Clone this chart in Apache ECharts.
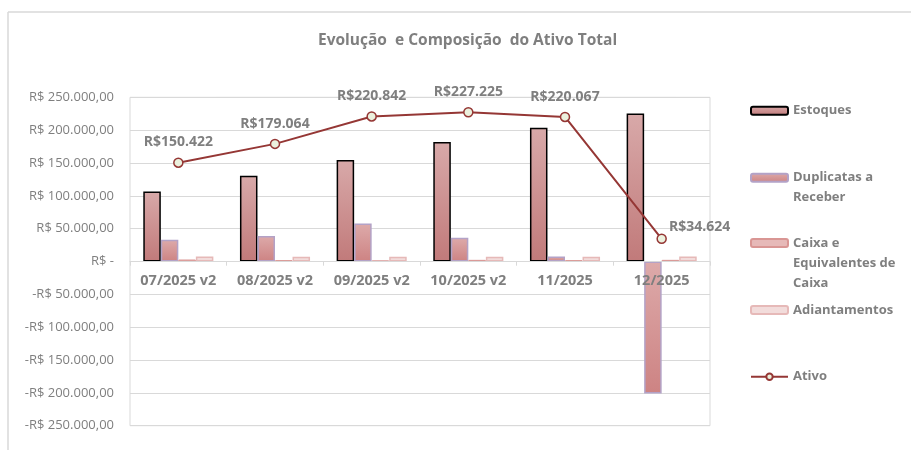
<!DOCTYPE html>
<html>
<head>
<meta charset="utf-8">
<script src="https://cdn.jsdelivr.net/npm/echarts@6/dist/echarts.min.js"></script>
<style>
  html, body { margin: 0; padding: 0; background: #fff; }
  #chart { width: 911px; height: 450px; }
</style>
</head>
<body>
<div id="chart"></div>
<script>
// valores
const categories = ['07/2025 v2', '08/2025 v2', '09/2025 v2', '10/2025 v2', '11/2025', '12/2025']
const estoques = [106400, 130700, 154600, 181900, 203600, 225500]
const duplicatas = [33000, 39000, 57800, 36000, 7600, -201000]
const caixa = [3000, 2000, 1500, 2500, 2000, 2500]
const adiantamentos = [7500, 7400, 7300, 7400, 7200, 7600]
const ativo = [150422, 179064, 220842, 227225, 220067, 34624]

const gray = '#7f7f7f'
const font = 'Open Sans'

function milhar(v) {
  return String(Math.round(Math.abs(v))).replace(/\B(?=(\d{3})+(?!\d))/g, '.')
}

function moeda(v) {
  if (v === 0) return 'R$ -'
  const s = 'R$ ' + milhar(v) + ',00'
  return v < 0 ? '-' + s : s
}

function grad(top, bottom) {
  return new echarts.graphic.LinearGradient(0, 0, 0, 1, [
    {offset: 0, color: top},
    {offset: 1, color: bottom}
  ])
}

function legendBox(name, text, top) {
  return {
    data: [name],
    left: 750,
    top: top,
    padding: 0,
    itemWidth: 37,
    itemHeight: 8,
    itemGap: 5,
    selectedMode: false,
    formatter: () => text,
    textStyle: {
      color: gray,
      fontFamily: font,
      fontWeight: 'bold',
      fontSize: 13,
      lineHeight: 20
    }
  }
}

const chart = echarts.init(document.getElementById('chart'))

const ativoData = ativo.map((v, i) => {
  if (i === ativo.length - 1) {
    return {value: v, label: {position: 'right', distance: 2, offset: [0, -12]}}
  }
  return v
})

const option = {
  animation: false,
  title: {
    text: 'Evolução  e Composição  do Ativo Total',
    left: 313,
    top: 28,
    textStyle: {color: gray, fontFamily: font, fontWeight: 'bold', fontSize: 15.5}
  },
  graphic: [
    {type: 'line', shape: {x1: 8, y1: 12, x2: 911, y2: 12}, style: {stroke: '#d9d9d9', lineWidth: 1.5}},
    {type: 'line', shape: {x1: 8, y1: 12, x2: 8, y2: 450}, style: {stroke: '#d9d9d9', lineWidth: 1.5}}
  ],
  legend: [
    legendBox('Estoques', 'Estoques', 100.7),
    legendBox('Duplicatas a Receber', ' \nDuplicatas a\nReceber', 147.7),
    legendBox('Caixa e Equivalentes de Caixa', ' \n \nCaixa e\nEquivalentes de\nCaixa', 193),
    legendBox('Adiantamentos', 'Adiantamentos', 300),
    legendBox('Ativo', 'Ativo', 366.7)
  ],
  grid: {
    left: 130,
    right: 201,
    top: 97.3,
    bottom: 24.3,
    show: true,
    borderColor: '#d9d9d9',
    borderWidth: 1
  },
  xAxis: {
    type: 'category',
    data: categories,
    z: 5,
    // eixo colocado sobre o zero (metade da altura do grid)
    offset: -164,
    axisLine: {onZero: false, lineStyle: {color: '#d9d9d9', width: 1}},
    axisTick: {show: true, length: 4, lineStyle: {color: '#d9d9d9'}},
    axisLabel: {
      interval: 0,
      hideOverlap: false,
      color: gray,
      fontFamily: font,
      fontWeight: 'bold',
      fontSize: 14.5,
      margin: 12
    }
  },
  yAxis: {
    type: 'value',
    min: -250000,
    max: 250000,
    interval: 50000,
    axisLine: {show: false},
    axisTick: {show: false},
    splitLine: {lineStyle: {color: '#d9d9d9'}},
    axisLabel: {color: gray, fontFamily: font, fontSize: 13, margin: 16, formatter: moeda}
  },
  series: [
    {
      name: 'Estoques',
      type: 'bar',
      data: estoques,
      barGap: '0%',
      barCategoryGap: '27.5%',
      itemStyle: {color: grad('#d8a9a9', '#c17a7a'), borderColor: '#000', borderWidth: 1.5}
    },
    {
      name: 'Duplicatas a Receber',
      type: 'bar',
      data: duplicatas,
      itemStyle: {color: grad('#ddaaaa', '#cd8383'), borderColor: '#b3a2c7', borderWidth: 1.5}
    },
    {
      name: 'Caixa e Equivalentes de Caixa',
      type: 'bar',
      data: caixa,
      itemStyle: {color: '#e6b9b8', borderColor: '#d99694', borderWidth: 1}
    },
    {
      name: 'Adiantamentos',
      type: 'bar',
      data: adiantamentos,
      itemStyle: {color: '#f2dcdb', borderColor: '#e6b9b8', borderWidth: 1.5}
    },
    {
      name: 'Ativo',
      type: 'line',
      data: ativoData,
      symbol: 'circle',
      symbolSize: 9,
      z: 6,
      lineStyle: {color: '#953735', width: 2},
      itemStyle: {color: '#ebf1de', borderColor: '#953735', borderWidth: 1.5},
      label: {
        show: true,
        position: 'top',
        distance: 8,
        color: gray,
        fontFamily: font,
        fontWeight: 'bold',
        fontSize: 14,
        formatter: p => 'R$' + milhar(p.value)
      }
    }
  ]
}

option && chart.setOption(option)
</script>
</body>
</html>
